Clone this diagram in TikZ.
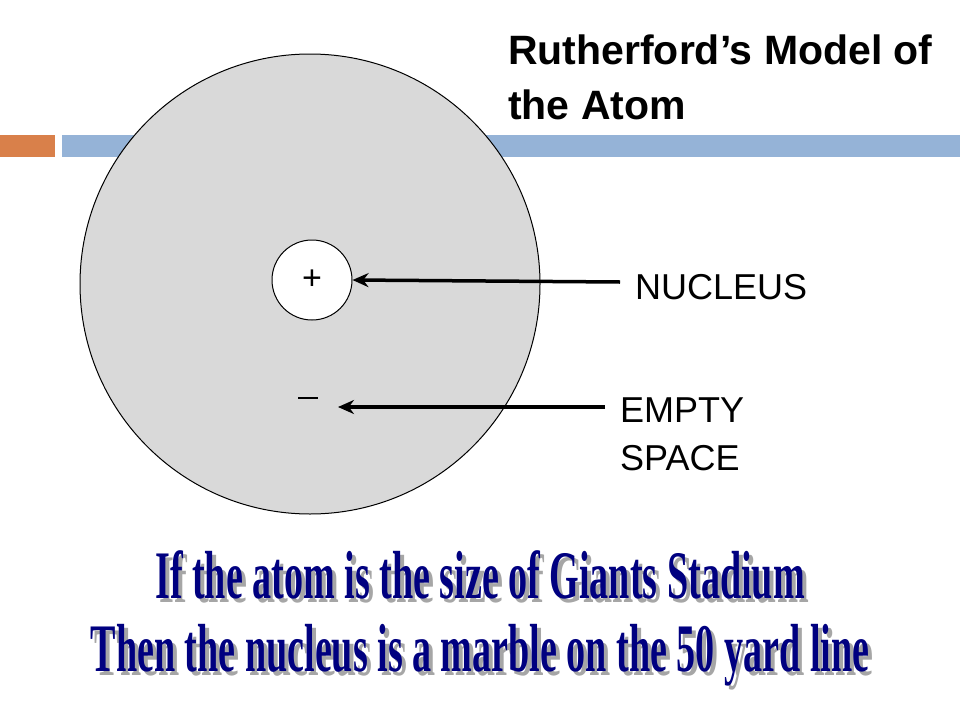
\documentclass[tikz,border=0pt]{standalone}
\usepackage{fontspec}
\usetikzlibrary{arrows.meta}
\setmainfont{Liberation Sans}
\newfontfamily\condserif{Liberation Serif}
\definecolor{barorange}{HTML}{D9804A}
\definecolor{barblue}{HTML}{95B3D7}
\definecolor{atomgray}{HTML}{D9D9D9}
\definecolor{navy}{HTML}{000080}
\definecolor{shadowgray}{HTML}{A6A6A6}
\begin{document}
\begin{tikzpicture}[x=1pt,y=-1pt,
  lbl/.style={anchor=west,font=\fontsize{36}{48}\selectfont,align=left,inner sep=0pt},
  ptr/.style={line width=3.5pt,-{Stealth[length=16pt,width=14pt]}},
  big/.style={font=\condserif\bfseries\fontsize{68}{70}\selectfont,xscale=0.56,inner sep=0pt}]
\useasboundingbox (0,0) rectangle (960,720);
\fill[white] (0,0) rectangle (960,720);
\fill[barorange] (0,135) rectangle (55,157);
\fill[barblue] (62,135) rectangle (960,157);
\draw[fill=atomgray,line width=1pt] (310,284) circle (230);
\node[draw,fill=white,circle,minimum size=80pt,line width=1pt,font=\fontsize{34}{34}\selectfont] (nuc) at (312,280) {+};
\draw[line width=2pt] (298,398) -- (318,398);
\node[lbl] (nl) at (635,287) {NUCLEUS};
\node[lbl,anchor=north west] (el2) at (620,398) {EMPTY\\SPACE};
\coordinate (nA) at (620,282);
\coordinate (eA) at (605,407);
\coordinate (eB) at (338,407);
\draw[ptr] (nA) -- (nuc.east);
\draw[ptr] (eA) -- (eB);
\node[anchor=west,font=\bfseries\fontsize{41}{55}\selectfont,align=left,inner sep=0pt] (title) at (508,77) {Rutherford’s Model of\\the Atom};
\foreach \t/\y in {{If the atom is the size of Giants Stadium}/575,{Then the nucleus is a marble on the 50 yard line}/655}{
  \node[big,text=shadowgray] at (484,\y+4) {\t};
  \node[big,text=navy] at (480,\y) {\t};
}
\end{tikzpicture}
\end{document}
